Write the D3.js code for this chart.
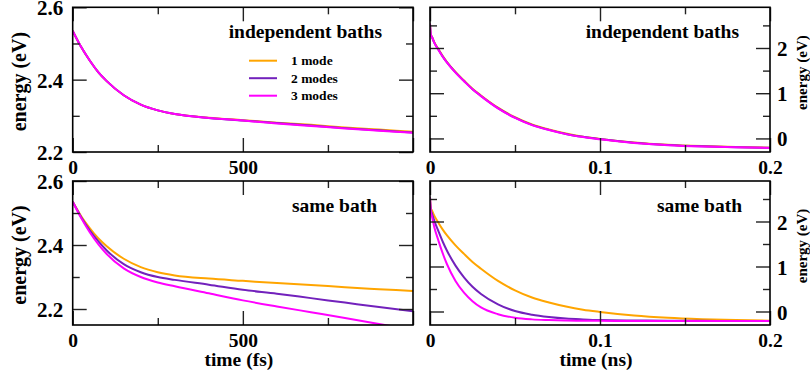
<!DOCTYPE html>
<html>
<head>
<meta charset="utf-8">
<script src="https://cdn.jsdelivr.net/npm/d3@7"></script>
<style>
  html, body { margin: 0; padding: 0; background: #fff; }
  svg { display: block; }
  text { font-family: "Liberation Serif", "Times New Roman", serif; font-weight: bold; fill: #000; }
</style>
</head>
<body>
<svg id="chart" width="810" height="377"></svg>
<script>
// ---------------- data ----------------
const seriesNames = ["1 mode", "2 modes", "3 modes"];

// femtosecond time axis (fs)
const tFs = [0, 25, 50, 75, 100, 150, 200, 250, 300, 400, 500, 600, 700, 800, 900, 1000];
const fsIndep1 = [2.535, 2.490, 2.453, 2.421, 2.396, 2.357, 2.331, 2.315, 2.305, 2.295, 2.288, 2.281, 2.275, 2.268, 2.262, 2.256];
const fsIndep2 = [2.535, 2.490, 2.453, 2.421, 2.396, 2.357, 2.331, 2.315, 2.305, 2.294, 2.287, 2.280, 2.273, 2.266, 2.260, 2.254];
const fsIndep3 = [2.535, 2.490, 2.453, 2.421, 2.396, 2.357, 2.331, 2.315, 2.305, 2.294, 2.287, 2.279, 2.272, 2.265, 2.259, 2.253];
const fsSame1  = [2.535, 2.490, 2.453, 2.421, 2.396, 2.357, 2.331, 2.315, 2.305, 2.295, 2.288, 2.281, 2.275, 2.268, 2.262, 2.256];
const fsSame2  = [2.535, 2.487, 2.446, 2.412, 2.383, 2.340, 2.315, 2.300, 2.291, 2.276, 2.260, 2.248, 2.234, 2.220, 2.206, 2.193];
const fsSame3  = [2.535, 2.484, 2.440, 2.403, 2.372, 2.327, 2.300, 2.283, 2.271, 2.249, 2.227, 2.208, 2.190, 2.172, 2.153, 2.135];

// nanosecond time axis (ns)
const tNs = [0, 0.0005, 0.001, 0.0025, 0.005, 0.0075, 0.01, 0.015, 0.02, 0.025, 0.03, 0.04, 0.05, 0.06, 0.07, 0.08, 0.09, 0.1, 0.12, 0.14, 0.16, 0.18, 0.2];
const nsIndep1 = [2.535, 2.288, 2.256, 2.13, 1.97, 1.82, 1.69, 1.47, 1.28, 1.10, 0.95, 0.68, 0.47, 0.31, 0.20, 0.11, 0.04, -0.01, -0.09, -0.14, -0.17, -0.19, -0.205];
const nsIndep2 = [2.535, 2.285, 2.254, 2.12, 1.96, 1.81, 1.68, 1.46, 1.27, 1.09, 0.94, 0.67, 0.46, 0.30, 0.19, 0.10, 0.035, -0.015, -0.095, -0.145, -0.175, -0.195, -0.208];
const nsIndep3 = [2.535, 2.283, 2.253, 2.12, 1.955, 1.805, 1.675, 1.455, 1.265, 1.085, 0.935, 0.665, 0.455, 0.295, 0.185, 0.095, 0.03, -0.02, -0.10, -0.148, -0.178, -0.197, -0.21];
const nsSame1  = [2.535, 2.288, 2.256, 2.13, 1.97, 1.82, 1.69, 1.47, 1.28, 1.10, 0.95, 0.68, 0.47, 0.31, 0.20, 0.11, 0.04, -0.01, -0.09, -0.14, -0.17, -0.19, -0.205];
const nsSame2  = [2.535, 2.25, 2.193, 2.02, 1.78, 1.55, 1.35, 1.02, 0.76, 0.55, 0.39, 0.16, 0.01, -0.07, -0.12, -0.155, -0.175, -0.19, -0.20, -0.205, -0.208, -0.21, -0.21];
const nsSame3  = [2.535, 2.20, 2.135, 1.88, 1.57, 1.29, 1.05, 0.68, 0.42, 0.23, 0.09, -0.06, -0.14, -0.175, -0.19, -0.20, -0.205, -0.208, -0.21, -0.21, -0.21, -0.21, -0.21];

// tick values / labels
const fsMajor = [0, 500, 1000];
const fsMinor = [250, 750];
const fsLabels = [0, 500];
const nsMajor = [0, 0.1, 0.2];
const nsMinor = [0.05, 0.15];
const nsLabels = [0, 0.1, 0.2];
const eFsMajorTop = [2.2, 2.4, 2.6];
const eFsMinorTop = [2.3, 2.5];
const eFsMajorBot = [2.2, 2.4, 2.6];
const eFsMinorBot = [2.3, 2.5];
const eNsMajor = [0, 1, 2];
const eNsMinor = [0.5, 1.5, 2.5];

const panelTitles = ["independent baths", "same bath"];
const xTitles = ["time (fs)", "time (ns)"];
const yTitle = "energy (eV)";

// ---------------- style / layout ----------------
const colors = ["#ffa500", "#7221bc", "#ff00ff"];

const panels = [
  { id: "tl", x0: 72.7, x1: 413, y0: 7.3, y1: 152, xd: [0, 1000], yd: [2.2, 2.6], t: tFs, ys: [fsIndep1, fsIndep2, fsIndep3],
    xMaj: fsMajor, xMin: fsMinor, xLab: fsLabels, yMaj: eFsMajorTop, yMin: eFsMinorTop, ySide: "left", title: panelTitles[0], titleEnd: 382, legend: true, xTitle: null },
  { id: "tr", x0: 430, x1: 770, y0: 7.3, y1: 152, xd: [0, 0.2], yd: [-0.3, 2.9], t: tNs, ys: [nsIndep1, nsIndep2, nsIndep3],
    xMaj: nsMajor, xMin: nsMinor, xLab: nsLabels, yMaj: eNsMajor, yMin: eNsMinor, ySide: "right", title: panelTitles[0], titleEnd: 739, legend: false, xTitle: null },
  { id: "bl", x0: 72.7, x1: 413, y0: 181, y1: 325, xd: [0, 1000], yd: [2.15, 2.6], t: tFs, ys: [fsSame1, fsSame2, fsSame3],
    xMaj: fsMajor, xMin: fsMinor, xLab: fsLabels, yMaj: eFsMajorBot, yMin: eFsMinorBot, ySide: "left", title: panelTitles[1], titleEnd: 377, legend: false, xTitle: xTitles[0] },
  { id: "br", x0: 430, x1: 770, y0: 181, y1: 325, xd: [0, 0.2], yd: [-0.3, 2.9], t: tNs, ys: [nsSame1, nsSame2, nsSame3],
    xMaj: nsMajor, xMin: nsMinor, xLab: nsLabels, yMaj: eNsMajor, yMin: eNsMinor, ySide: "right", title: panelTitles[1], titleEnd: 742, legend: false, xTitle: xTitles[1] }
];

const MAJ = 14, MIN = 7, FS = 19.5, FSY = 21;

const svg = d3.select("#chart");
const defs = svg.append("defs");

panels.forEach(p => {
  const x = d3.scaleLinear().domain(p.xd).range([p.x0, p.x1]);
  const y = d3.scaleLinear().domain(p.yd).range([p.y1, p.y0]);
  const g = svg.append("g").attr("class", "panel-" + p.id);

  defs.append("clipPath").attr("id", "clip-" + p.id)
    .append("rect").attr("x", p.x0).attr("y", p.y0).attr("width", p.x1 - p.x0).attr("height", p.y1 - p.y0);

  // curves
  const line = d3.line().x((d, i) => x(p.t[i])).y(d => y(d)).curve(d3.curveMonotoneX);
  const cg = g.append("g").attr("clip-path", "url(#clip-" + p.id + ")");
  p.ys.forEach((vals, k) => {
    cg.append("path").datum(vals).attr("d", line)
      .attr("fill", "none").attr("stroke", colors[k]).attr("stroke-width", 2);
  });

  const labFmtX = d => p.xLab.includes(d) ? String(d) : "";
  const noLab = () => "";

  function addAxis(gen, transform, vals, size, fmt, pad, fs, dy) {
    const a = g.append("g").attr("transform", transform)
      .call(gen.tickValues(vals).tickSizeInner(-size).tickSizeOuter(0).tickPadding(pad).tickFormat(fmt));
    a.select(".domain").remove();
    a.selectAll(".tick line").attr("stroke", "#222").attr("stroke-width", 1.4);
    const tx = a.selectAll(".tick text").style("font-size", (fs || FS) + "px").attr("fill", "#000")
      .style("font-family", '"Liberation Serif", "Times New Roman", serif').style("font-weight", "bold");
    if (dy) tx.attr("dy", dy);
    return a;
  }
  // x axes
  addAxis(d3.axisBottom(x), `translate(0,${p.y1})`, p.xMaj, MAJ, labFmtX, 8);
  addAxis(d3.axisBottom(x), `translate(0,${p.y1})`, p.xMin, MIN, noLab, 8);
  addAxis(d3.axisTop(x), `translate(0,${p.y0})`, p.xMaj, MAJ, noLab, 8);
  addAxis(d3.axisTop(x), `translate(0,${p.y0})`, p.xMin, MIN, noLab, 8);
  // y axes
  const fmtY = d => String(d);
  addAxis(d3.axisLeft(y), `translate(${p.x0},0)`, p.yMaj, MAJ, p.ySide === "left" ? fmtY : noLab, 9.5, FSY, "0.36em");
  addAxis(d3.axisLeft(y), `translate(${p.x0},0)`, p.yMin, MIN, noLab, 9.5);
  addAxis(d3.axisRight(y), `translate(${p.x1},0)`, p.yMaj, MAJ, p.ySide === "right" ? fmtY : noLab, 7, FSY, "0.36em");
  addAxis(d3.axisRight(y), `translate(${p.x1},0)`, p.yMin, MIN, noLab, 7);

  // frame
  g.append("rect").attr("x", p.x0).attr("y", p.y0).attr("width", p.x1 - p.x0).attr("height", p.y1 - p.y0)
    .attr("fill", "none").attr("stroke", "#000").attr("stroke-width", 1.6);

  // panel title
  g.append("text").attr("x", p.titleEnd).attr("y", p.y0 + 30.5).attr("text-anchor", "end")
    .style("font-size", FS + "px").text(p.title);

  // y title
  const cy = (p.y0 + p.y1) / 2;
  if (p.ySide === "left") {
    g.append("text").attr("transform", `translate(26,${cy + 2}) rotate(-90)`).attr("text-anchor", "middle")
      .style("font-size", "20px").text(yTitle);
  } else {
    g.append("text").attr("transform", `translate(807,${cy - 7}) rotate(-90)`).attr("text-anchor", "middle")
      .style("font-size", "15px").text(yTitle);
  }

  // x title
  if (p.xTitle) {
    g.append("text").attr("x", (p.x0 + p.x1) / 2 - 4).attr("y", 366).attr("text-anchor", "middle")
      .style("font-size", FS + "px").text(p.xTitle);
  }

  // legend
  if (p.legend) {
    const lg = g.append("g");
    seriesNames.forEach((name, k) => {
      const ly = 60.7 + k * 17.5;
      lg.append("line").attr("x1", 249).attr("x2", 277).attr("y1", ly).attr("y2", ly)
        .attr("stroke", colors[k]).attr("stroke-width", 2);
      lg.append("text").attr("x", 291).attr("y", ly + 4.5).style("font-size", "13.5px").text(name);
    });
  }
});
</script>
</body>
</html>
